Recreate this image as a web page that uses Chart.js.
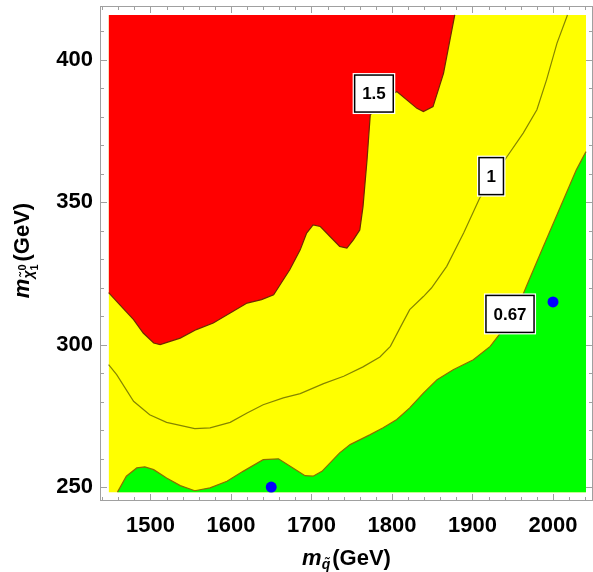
<!DOCTYPE html>
<html>
<head>
<meta charset="utf-8">
<script src="https://cdn.jsdelivr.net/npm/chart.js@4/dist/chart.umd.min.js"></script>
<style>
  body { margin: 0; background: #fff; }
  canvas { display: block; }
</style>
</head>
<body>
<canvas id="contour" width="593" height="572"></canvas>
<script>
// limites da região calculada
const xLo = 1448, xHi = 2041;
const yLo = 248.2, yHi = 415.8;

// contorno 1.5 (região vermelha acima)
const redX = [1448, 1462, 1479, 1491, 1504, 1512, 1537, 1557, 1578, 1599, 1620, 1638, 1653, 1665, 1673, 1686, 1694, 1702, 1711, 1723, 1735, 1744, 1752, 1760, 1764, 1769, 1773, 1790, 1806, 1831, 1839, 1851, 1864, 1878];
const redY = [318.3, 314.0, 308.8, 304.1, 300.6, 300.0, 302.3, 305.3, 307.6, 311.1, 314.6, 315.8, 317.5, 322.8, 326.3, 333.3, 339.2, 342.1, 341.5, 338.0, 334.5, 333.9, 336.8, 340.3, 348.5, 364.9, 380.7, 386.0, 388.9, 383.0, 381.9, 383.6, 395.3, 415.8];

// contorno 0.67 (região verde abaixo)
const greenX = [1459, 1470, 1483, 1493, 1504, 1520, 1537, 1555, 1574, 1595, 1615, 1640, 1659, 1677, 1692, 1702, 1713, 1735, 1748, 1773, 1789, 1806, 1822, 1839, 1856, 1876, 1901, 1922, 1938, 1955, 1967, 1988, 2013, 2029, 2041];
const greenY = [248.2, 253.8, 256.7, 257.1, 256.1, 253.2, 250.5, 248.7, 249.7, 252.0, 255.5, 259.6, 259.9, 256.7, 254.0, 253.8, 255.5, 262.0, 264.9, 268.4, 270.8, 273.7, 277.8, 283.0, 287.7, 291.2, 294.7, 299.4, 305.3, 312.3, 320.5, 334.5, 350.9, 361.4, 367.8];

// contorno 1
const line1X = [1448, 1458, 1479, 1499, 1520, 1555, 1574, 1599, 1620, 1640, 1665, 1686, 1715, 1740, 1764, 1785, 1798, 1810, 1822, 1839, 1849, 1868, 1889, 1909, 1926, 1943, 1963, 1980, 1992, 2005, 2018];
const line1Y = [293.0, 289.5, 280.1, 275.4, 272.7, 270.5, 270.8, 272.7, 276.0, 278.9, 281.3, 282.8, 286.3, 288.9, 292.2, 295.7, 299.4, 305.9, 312.3, 316.9, 319.9, 327.5, 339.2, 351.5, 359.0, 366.1, 374.3, 382.5, 393.0, 405.9, 415.8];

// rótulos dos contornos
const levelLabels = ['1.5', '1', '0.67'];
const levelLabelX = [1777.6, 1923.3, 1946.6];
const levelLabelY = [388.2, 359.2, 310.8];

// pontos de referência
const benchX = [1650, 2000];
const benchY = [250, 315];

// ticks
const xTicks = [1500, 1600, 1700, 1800, 1900, 2000];
const yTicks = [250, 300, 350, 400];

const pts = (xs, ys) => xs.map((x, i) => ({ x: x, y: ys[i] }));

const fontFam = '"Liberation Sans", Arial, sans-serif';

// moldura e ticks para dentro, estilo Mathematica
const framePlugin = {
  id: 'frame',
  afterDraw(chart) {
    const { ctx, chartArea: a, scales: { x, y } } = chart;
    ctx.save();
    ctx.strokeStyle = '#a0a0a0';
    ctx.lineWidth = 1;
    ctx.strokeRect(a.left + 0.5, a.top + 0.5, a.right - a.left - 1, a.bottom - a.top - 1);
    ctx.beginPath();
    for (let v = 1440; v <= 2040; v += 20) {
      const px = Math.round(x.getPixelForValue(v)) + 0.5;
      const len = v % 100 === 0 ? 7 : 4;
      ctx.moveTo(px, a.bottom); ctx.lineTo(px, a.bottom - len);
      ctx.moveTo(px, a.top); ctx.lineTo(px, a.top + len);
    }
    for (let v = 250; v <= 410; v += 10) {
      const py = Math.round(y.getPixelForValue(v)) + 0.5;
      const len = v % 50 === 0 ? 7 : 4;
      ctx.moveTo(a.left, py); ctx.lineTo(a.left + len, py);
      ctx.moveTo(a.right, py); ctx.lineTo(a.right - len, py);
    }
    ctx.stroke();

    // títulos dos eixos
    ctx.fillStyle = '#000';
    ctx.textBaseline = 'alphabetic';
    const big = 'bold italic 22px ' + fontFam;
    const bigUp = 'bold 22px ' + fontFam;
    const small = 'bold italic 14px ' + fontFam;
    ctx.font = big; const wm = ctx.measureText('m').width;
    ctx.font = small; const wq = ctx.measureText('q\u0303').width;
    ctx.font = bigUp; const wg = ctx.measureText('(GeV)').width;
    const total = wm + wq + 2 + wg;
    let cx = (a.left + a.right) / 2 - total / 2;
    const base = 565;
    ctx.textAlign = 'left';
    ctx.font = big; ctx.fillText('m', cx, base); cx += wm;
    ctx.font = small; ctx.fillText('q\u0303', cx, base + 4); cx += wq + 2;
    ctx.font = bigUp; ctx.fillText('(GeV)', cx, base);

    // eixo y
    ctx.translate(29, (a.top + a.bottom) / 2 - 3);
    ctx.rotate(-Math.PI / 2);
    ctx.font = small; const wc = ctx.measureText('\u03c7\u0303').width;
    const ws = 8;
    const totY = wm + wc + ws + 1 + wg;
    let cy = -totY / 2;
    ctx.font = big; ctx.fillText('m', cy, 0); cy += wm;
    ctx.font = small; ctx.fillText('\u03c7\u0303', cy, 4); cy += wc;
    ctx.font = 'bold 11px ' + fontFam;
    ctx.fillText('0', cy, -3);
    ctx.fillText('1', cy, 9);
    cy += ws + 1;
    ctx.font = bigUp; ctx.fillText('(GeV)', cy, 0);
    ctx.restore();
  }
};

// caixas com os valores dos contornos
const labelPlugin = {
  id: 'levelLabels',
  afterDatasetsDraw(chart) {
    const { ctx, scales: { x, y } } = chart;
    ctx.save();
    ctx.font = 'bold 17px ' + fontFam;
    ctx.textAlign = 'center';
    ctx.textBaseline = 'middle';
    levelLabels.forEach((t, i) => {
      const px = x.getPixelForValue(levelLabelX[i]);
      const py = y.getPixelForValue(levelLabelY[i]);
      const w = ctx.measureText(t).width + 16;
      const h = 38;
      ctx.fillStyle = '#fff';
      ctx.fillRect(px - w / 2 - 1.5, py - h / 2 - 1.5, w + 3, h + 3);
      ctx.strokeStyle = '#000';
      ctx.lineWidth = 1.5;
      ctx.strokeRect(px - w / 2 + 0.5, py - h / 2 + 0.5, w - 1, h - 1);
      ctx.fillStyle = '#000';
      ctx.fillText(t, px, py + 1);
    });
    ctx.restore();
  }
};

const ctx = document.getElementById('contour').getContext('2d');
new Chart(ctx, {
  type: 'scatter',
  data: {
    datasets: [
      {
        label: 'fundo',
        data: pts([xLo, xHi], [yHi, yHi]),
        showLine: true,
        borderWidth: 0,
        pointRadius: 0,
        backgroundColor: '#ffff00',
        fill: { value: yLo },
        order: 5
      },
      {
        label: '0.67',
        data: pts(greenX, greenY),
        showLine: true,
        borderColor: '#8a6e00',
        borderWidth: 1.2,
        pointRadius: 0,
        backgroundColor: '#00ff00',
        fill: { value: yLo },
        order: 4
      },
      {
        label: '1.5',
        data: pts(redX, redY),
        showLine: true,
        borderColor: '#6e2800',
        borderWidth: 1.2,
        pointRadius: 0,
        backgroundColor: '#ff0000',
        fill: { value: yHi },
        order: 3
      },
      {
        label: '1',
        data: pts(line1X, line1Y),
        showLine: true,
        borderColor: '#858500',
        borderWidth: 1.2,
        pointRadius: 0,
        fill: false,
        order: 2
      },
      {
        label: 'pontos',
        data: pts(benchX, benchY),
        pointRadius: 5.5,
        pointBackgroundColor: '#0000ff',
        pointBorderWidth: 0,
        order: 1
      }
    ]
  },
  options: {
    responsive: false,
    animation: false,
    layout: { autoPadding: false, padding: { top: 6, right: 0, left: 0, bottom: 0 } },
    plugins: { legend: { display: false }, tooltip: { enabled: false } },
    scales: {
      x: {
        type: 'linear',
        min: 1437.3,
        max: 2049.7,
        grid: { display: false, drawTicks: false },
        border: { display: false },
        ticks: { color: '#000', padding: 12, font: { family: fontFam, size: 22, weight: 'bold' }, maxRotation: 0, callback: v => String(v) },
        afterBuildTicks(s) { s.ticks = xTicks.map(v => ({ value: v })); },
        afterFit(s) { s.height = 71; s.paddingLeft = 0; s.paddingRight = 0; }
      },
      y: {
        type: 'linear',
        min: 245.09,
        max: 418.95,
        grid: { display: false, drawTicks: false },
        border: { display: false },
        ticks: { color: '#000', padding: 7, font: { family: fontFam, size: 22, weight: 'bold' }, callback: v => String(v) },
        afterBuildTicks(s) { s.ticks = yTicks.map(v => ({ value: v })); },
        afterFit(s) { s.width = 100; s.paddingTop = 0; s.paddingBottom = 0; }
      }
    }
  },
  plugins: [framePlugin, labelPlugin]
});
</script>
</body>
</html>
